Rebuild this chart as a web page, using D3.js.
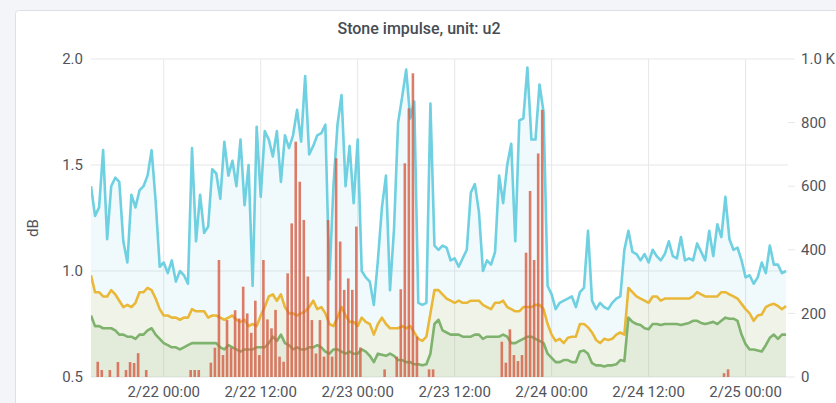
<!DOCTYPE html>
<html>
<head>
<meta charset="utf-8">
<script src="https://cdn.jsdelivr.net/npm/d3@7"></script>
<style>
  body { margin: 0; background: #f4f5f8; font-family: Roboto, "Noto Sans", sans-serif; }
</style>
</head>
<body>
<script>
const svgWidth = 836;
const svgHeight = 403;

// series sampled every 30 min from 2/21 15:00
const cyanValues = [
    1.40, 1.26, 1.30, 1.57, 1.15, 1.40, 1.44, 1.42, 1.14, 1.04,
    1.36, 1.30, 1.38, 1.40, 1.45, 1.57, 1.33, 1.02, 1.04, 0.99,
    1.05, 0.95, 1.00, 0.98, 0.94, 1.58, 1.14, 1.36, 1.18, 1.21,
    1.48, 1.46, 1.34, 1.61, 1.45, 1.52, 1.40, 1.62, 1.31, 1.50,
    0.93, 1.68, 1.35, 1.66, 1.62, 1.54, 1.66, 1.42, 1.64, 1.58,
    1.64, 1.76, 1.61, 1.92, 1.55, 1.59, 1.64, 1.65, 1.69, 0.96,
    1.40, 1.69, 1.83, 1.40, 1.59, 1.32, 1.62, 1.00, 0.97, 0.95,
    0.84, 1.05, 1.30, 1.45, 0.91, 1.20, 1.70, 1.82, 1.95, 1.72,
    1.80, 0.85, 0.84, 0.85, 1.79, 1.12, 1.10, 1.12, 1.11, 1.05,
    1.06, 1.02, 1.06, 1.10, 1.37, 1.41, 1.28, 1.00, 1.05, 1.03,
    1.09, 1.45, 1.32, 1.50, 1.60, 1.14, 1.71, 1.72, 1.96, 1.62,
    1.62, 1.88, 1.75, 0.93, 0.89, 0.82, 0.85, 0.86, 0.87, 0.88,
    0.83, 0.90, 0.92, 1.19, 0.86, 0.82, 0.85, 0.83, 0.82, 0.85,
    0.87, 0.88, 1.10, 1.19, 1.09, 1.08, 1.05, 1.08, 1.04, 1.10,
    1.07, 1.05, 1.08, 1.14, 1.07, 1.06, 1.16, 1.05, 1.06, 1.05,
    1.13, 1.09, 1.05, 1.19, 1.07, 1.22, 1.16, 1.35, 1.15, 1.10,
    1.11, 1.05, 0.97, 0.98, 0.94, 0.97, 1.04, 0.99, 1.12, 1.03,
    1.03, 0.99, 1.00
];

const yellowValues = [
    0.98, 0.90, 0.90, 0.88, 0.88, 0.91, 0.89, 0.86, 0.83, 0.84,
    0.83, 0.85, 0.90, 0.90, 0.92, 0.91, 0.87, 0.82, 0.79, 0.79,
    0.78, 0.78, 0.77, 0.78, 0.78, 0.82, 0.81, 0.81, 0.81, 0.78,
    0.79, 0.79, 0.78, 0.77, 0.78, 0.79, 0.77, 0.76, 0.77, 0.74,
    0.75, 0.74, 0.79, 0.83, 0.88, 0.89, 0.86, 0.89, 0.83, 0.80,
    0.80, 0.79, 0.80, 0.81, 0.83, 0.86, 0.82, 0.83, 0.80, 0.75,
    0.74, 0.78, 0.83, 0.79, 0.76, 0.76, 0.74, 0.78, 0.76, 0.75,
    0.70, 0.75, 0.78, 0.75, 0.73, 0.73, 0.73, 0.74, 0.73, 0.74,
    0.71, 0.68, 0.67, 0.69, 0.80, 0.91, 0.91, 0.89, 0.87, 0.86,
    0.85, 0.86, 0.85, 0.85, 0.86, 0.86, 0.86, 0.84, 0.83, 0.82,
    0.85, 0.85, 0.86, 0.83, 0.82, 0.81, 0.81, 0.83, 0.83, 0.83,
    0.84, 0.84, 0.82, 0.75, 0.70, 0.67, 0.68, 0.66, 0.685, 0.69,
    0.69, 0.75, 0.75, 0.735, 0.71, 0.675, 0.66, 0.68, 0.675, 0.68,
    0.70, 0.71, 0.70, 0.92, 0.90, 0.88, 0.87, 0.86, 0.85, 0.88,
    0.88, 0.86, 0.87, 0.87, 0.87, 0.87, 0.87, 0.87, 0.87, 0.88,
    0.90, 0.89, 0.88, 0.88, 0.88, 0.88, 0.90, 0.90, 0.89, 0.88,
    0.87, 0.845, 0.82, 0.80, 0.765, 0.79, 0.795, 0.83, 0.84, 0.845,
    0.835, 0.82, 0.835
];

const greenValues = [
    0.79, 0.74, 0.74, 0.73, 0.73, 0.73, 0.72, 0.70, 0.70, 0.69,
    0.69, 0.68, 0.70, 0.70, 0.72, 0.73, 0.70, 0.68, 0.66, 0.65,
    0.64, 0.64, 0.63, 0.64, 0.65, 0.66, 0.66, 0.66, 0.66, 0.66,
    0.66, 0.66, 0.64, 0.63, 0.65, 0.64, 0.63, 0.62, 0.63, 0.63,
    0.63, 0.64, 0.64, 0.64, 0.66, 0.69, 0.67, 0.70, 0.66, 0.65,
    0.63, 0.64, 0.63, 0.63, 0.64, 0.64, 0.65, 0.64, 0.62, 0.61,
    0.63, 0.63, 0.62, 0.61, 0.62, 0.61, 0.61, 0.63, 0.62, 0.60,
    0.57, 0.61, 0.605, 0.60, 0.61, 0.60, 0.58, 0.58, 0.57, 0.57,
    0.56, 0.56, 0.555, 0.56, 0.61, 0.75, 0.77, 0.72, 0.71, 0.70,
    0.70, 0.70, 0.69, 0.69, 0.69, 0.70, 0.70, 0.68, 0.69, 0.69,
    0.69, 0.69, 0.70, 0.69, 0.66, 0.66, 0.67, 0.68, 0.69, 0.69,
    0.68, 0.67, 0.66, 0.61, 0.59, 0.57, 0.57, 0.58, 0.58, 0.57,
    0.57, 0.62, 0.625, 0.61, 0.565, 0.555, 0.555, 0.55, 0.555, 0.555,
    0.56, 0.58, 0.575, 0.78, 0.76, 0.75, 0.745, 0.73, 0.725, 0.75,
    0.75, 0.745, 0.75, 0.75, 0.75, 0.75, 0.745, 0.75, 0.755, 0.765,
    0.765, 0.755, 0.75, 0.755, 0.76, 0.75, 0.765, 0.78, 0.775, 0.775,
    0.765, 0.70, 0.655, 0.63, 0.63, 0.625, 0.62, 0.65, 0.685, 0.70,
    0.68, 0.70, 0.70
];

// bars: 30 min slots counted from 2/21 15:20, right axis
const barSlots = [
    1, 2, 4, 6, 8, 9, 10, 11, 13,
    24, 25, 26,
    29, 30, 31, 32, 33, 34, 35, 36, 37, 38, 39, 40, 41, 42, 43, 44, 45, 46, 47,
    48, 49, 50, 51, 52, 53, 54, 55, 56, 57, 58, 59, 60, 61, 62, 63, 64, 65, 66,
    72, 75, 76, 77, 78, 79, 80, 83, 84,
    101, 102, 103, 104, 105, 106, 107, 108, 109, 110, 111,
    156, 157
];
const barCounts = [
    48, 22, 22, 47, 22, 47, 44, 75, 22,
    22, 22, 22,
    45, 92, 368, 69, 179, 92, 210, 184, 284, 200, 139, 240, 69, 368, 181, 153, 211, 64, 48,
    326, 483, 740, 614, 494, 316, 179, 74, 179, 64, 494, 64, 688, 426, 274, 310, 274, 473, 93,
    24, 64, 276, 672, 845, 955, 127, 24, 24,
    111, 45, 150, 69, 50, 69, 391, 585, 368, 703, 840,
    12, 24
];

const leftTicks = [0.5, 1.0, 1.5, 2.0];
const rightTicks = [0, 200, 400, 600, 800, 1000];

const lineStart = new Date(2021, 1, 21, 15, 0);
const barStart = new Date(2021, 1, 21, 15, 20);
const times = cyanValues.map((v, i) => d3.timeMinute.offset(lineStart, 30 * i));

const plotLeft = 91;
const plotRight = 786;
const plotTop = 59;
const plotBottom = 377;

const svg = d3.select("body").append("svg").attr("width", svgWidth).attr("height", svgHeight);

// panel
svg.append("rect")
    .attr("x", 15.5)
    .attr("y", 10.5)
    .attr("width", 840)
    .attr("height", 420)
    .attr("rx", 3)
    .attr("fill", "white")
    .attr("stroke", "#dce1e6");

svg.append("text")
    .attr("x", 419)
    .attr("y", 34)
    .attr("text-anchor", "middle")
    .attr("font-size", 16)
    .attr("font-weight", 500)
    .attr("fill", "#464c54")
    .text("Stone impulse, unit: u2");

const x = d3.scaleTime().domain([lineStart, times[times.length - 1]]).range([plotLeft, plotRight]);
const yLeft = d3.scaleLinear().domain([0.5, 2.0]).range([plotBottom, plotTop]);
const yRight = d3.scaleLinear().domain([0, 1000]).range([plotBottom, plotTop]);

const xTicks = x.ticks(d3.timeHour.every(12));
const fmtTime = d3.timeFormat("%-m/%d %H:%M");

// grid
svg.append("g").selectAll("line").data(xTicks).join("line")
    .attr("x1", d => x(d)).attr("x2", d => x(d))
    .attr("y1", plotTop).attr("y2", plotBottom)
    .attr("stroke", "#e6e7e9");

svg.append("g").selectAll("line").data(leftTicks).join("line")
    .attr("x1", plotLeft).attr("x2", 788)
    .attr("y1", d => yLeft(d)).attr("y2", d => yLeft(d))
    .attr("stroke", "#e6e7e9");

svg.append("defs").append("clipPath").attr("id", "plot")
    .append("rect")
    .attr("x", plotLeft).attr("y", plotTop - 5)
    .attr("width", plotRight - plotLeft + 2).attr("height", plotBottom - plotTop + 5);

const plot = svg.append("g").attr("clip-path", "url(#plot)");

const series = [
    {values: cyanValues, color: "#6ED0E0"},
    {values: yellowValues, color: "#EAB839"},
    {values: greenValues, color: "#7EB26D"}
];

const area = d3.area()
    .x((d, i) => x(times[i]))
    .y0(plotBottom)
    .y1(d => yLeft(d));

const line = d3.line()
    .x((d, i) => x(times[i]))
    .y(d => yLeft(d));

plot.selectAll(".fill").data(series).join("path")
    .attr("class", "fill")
    .attr("d", d => area(d.values))
    .attr("fill", d => d.color)
    .attr("fill-opacity", 0.1);

plot.selectAll(".line").data(series).join("path")
    .attr("class", "line")
    .attr("d", d => line(d.values))
    .attr("fill", "none")
    .attr("stroke", d => d.color)
    .attr("stroke-width", 2.6)
    .attr("stroke-linejoin", "round");

// bars
const barWidth = 2.6;
plot.selectAll(".bar").data(barSlots).join("rect")
    .attr("class", "bar")
    .attr("x", d => x(d3.timeMinute.offset(barStart, 30 * d)) - barWidth / 2)
    .attr("y", (d, i) => yRight(barCounts[i]))
    .attr("width", barWidth)
    .attr("height", (d, i) => plotBottom - yRight(barCounts[i]))
    .attr("fill", "#D65F47")
    .attr("fill-opacity", 0.82);

// axes text
const tickColor = "#52545c";

svg.append("g").selectAll("text").data(leftTicks).join("text")
    .attr("x", 83)
    .attr("y", d => yLeft(d))
    .attr("dy", "0.35em")
    .attr("text-anchor", "end")
    .attr("font-size", 15)
    .attr("fill", tickColor)
    .text(d => d.toFixed(1));

svg.append("g").selectAll("line").data(rightTicks).join("line")
    .attr("x1", 788).attr("x2", 795)
    .attr("y1", d => yRight(d)).attr("y2", d => yRight(d))
    .attr("stroke", "#e6e7e9");

svg.append("g").selectAll("text").data(rightTicks).join("text")
    .attr("x", 801)
    .attr("y", d => yRight(d))
    .attr("dy", "0.35em")
    .attr("font-size", 15)
    .attr("fill", tickColor)
    .text(d => d >= 1000 ? (d / 1000).toFixed(1) + " K" : d);

svg.append("g").selectAll("text").data(xTicks).join("text")
    .attr("x", d => x(d))
    .attr("y", 397)
    .attr("text-anchor", "middle")
    .attr("font-size", 15)
    .attr("fill", tickColor)
    .text(d => fmtTime(d));

svg.append("text")
    .attr("transform", "translate(38,228) rotate(-90)")
    .attr("text-anchor", "middle")
    .attr("font-size", 15)
    .attr("fill", tickColor)
    .text("dB");
</script>
</body>
</html>
